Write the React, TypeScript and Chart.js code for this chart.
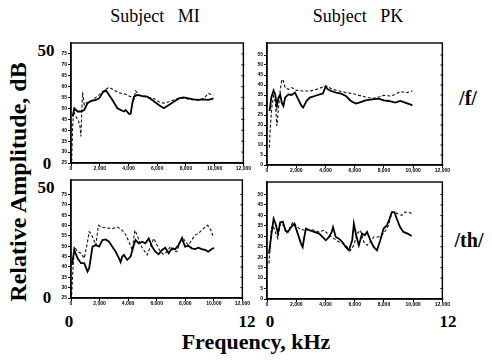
import React, { useEffect, useRef } from "react";
import { Chart, registerables } from "chart.js";

Chart.register(...registerables);

// x ticks (Hz) shared by every panel
const xTicks = [0, 2000, 4000, 6000, 8000, 10000, 12000];

// Subject MI, /f/
const miFSolidFreq = [115, 231, 462, 692, 923, 1154, 1385, 1731, 1962, 2193, 2423, 2654, 2885, 3231, 3462, 3692, 3808, 4039, 4154, 4270, 4385, 4616, 4962, 5308, 5654, 6116, 6462, 6808, 7154, 7500, 7846, 8193, 8539, 8885, 9231, 9577, 9923];
const miFSolidDb = [46.3, 50.1, 48.6, 48.6, 49.3, 52.4, 53.4, 53.9, 54.6, 57.2, 58.4, 56.2, 53.9, 50.1, 49.3, 48.6, 49.3, 47.5, 47.5, 52.4, 55.4, 56.2, 55.7, 55.4, 53.9, 51.6, 50.1, 51.6, 53.1, 54.6, 55.1, 54.6, 54.2, 53.9, 54.2, 53.9, 54.6];
const miFDashFreq = [46, 115, 185, 346, 531, 623, 692, 762, 808, 923, 1039, 1269, 1500, 1731, 1962, 2193, 2423, 2654, 3000, 3346, 3808, 4154, 4385, 4500, 4731, 5077, 5423, 5769, 6116, 6462, 6808, 7154, 7500, 7846, 8193, 8539, 8885, 9231, 9577, 9808, 9923];
const miFDashDb = [25.8, 41.7, 48.6, 46.3, 44.0, 41.7, 37.2, 50.8, 57.4, 51.6, 52.4, 53.1, 53.9, 55.1, 56.2, 57.7, 58.7, 59.7, 58.4, 57.2, 56.5, 55.4, 54.2, 58.1, 56.2, 55.7, 55.1, 54.6, 53.1, 52.4, 53.1, 53.9, 54.6, 54.9, 54.2, 53.9, 53.9, 54.6, 56.9, 56.2, 56.2];

// Subject PK, /f/
const pkFSolidFreq = [180, 293, 450, 563, 675, 788, 900, 1013, 1125, 1238, 1463, 1688, 1913, 2138, 2363, 2476, 2701, 2926, 3264, 3602, 3827, 4007, 4164, 4389, 4727, 5065, 5402, 5740, 6078, 6303, 6753, 7203, 7653, 7991, 8329, 8779, 9116, 9454, 9792, 9949];
const pkFSolidDb = [27.0, 33.7, 37.3, 35.3, 29.5, 33.7, 35.3, 31.2, 29.5, 33.7, 35.3, 35.0, 36.2, 32.8, 29.5, 28.7, 32.0, 33.7, 34.5, 35.3, 35.7, 39.2, 37.8, 37.0, 36.2, 35.7, 34.5, 32.0, 30.7, 31.2, 32.3, 32.8, 33.2, 32.3, 32.0, 31.2, 32.0, 31.2, 30.3, 29.8];
const pkFDashFreq = [158, 225, 338, 450, 563, 675, 788, 900, 1013, 1125, 1238, 1463, 1688, 2026, 2476, 2926, 3377, 3827, 4052, 4502, 4952, 5402, 5852, 6303, 6753, 7203, 7653, 7991, 8441, 8779, 9116, 9566, 9949];
const pkFDashDb = [8.7, 18.7, 29.5, 34.5, 32.0, 19.5, 28.7, 37.0, 42.8, 42.0, 38.7, 37.8, 38.7, 37.3, 37.0, 37.0, 37.8, 39.0, 39.5, 37.8, 37.0, 36.2, 35.7, 34.8, 34.0, 33.3, 34.0, 34.8, 34.5, 35.3, 36.7, 36.2, 37.0];

// Subject MI, /th/
const miThSolidFreq = [70, 232, 463, 695, 927, 1158, 1274, 1506, 1738, 1969, 2201, 2433, 2664, 2896, 3128, 3360, 3476, 3591, 3707, 3939, 4171, 4403, 4518, 4750, 4982, 5213, 5445, 5677, 5909, 6140, 6372, 6604, 6836, 7067, 7299, 7531, 7763, 7994, 8226, 8458, 8690, 8921, 9153, 9385, 9617, 9848, 10010];
const miThSolidDb = [41.0, 48.2, 44.2, 41.8, 41.8, 37.8, 39.4, 49.8, 50.6, 49.8, 53.0, 53.3, 52.2, 49.8, 47.4, 44.2, 42.3, 45.0, 45.8, 43.4, 45.0, 50.6, 53.0, 51.4, 52.2, 51.4, 53.8, 49.8, 47.4, 46.1, 48.2, 49.3, 46.6, 49.0, 48.6, 50.6, 53.8, 49.8, 50.2, 49.0, 48.6, 49.3, 48.6, 48.2, 47.4, 48.6, 49.3];
const miThDashFreq = [46, 116, 232, 463, 695, 927, 1158, 1274, 1390, 1506, 1738, 1923, 2085, 2433, 2896, 3244, 3591, 3823, 4054, 4286, 4472, 4634, 4866, 5097, 5329, 5561, 5793, 6024, 6256, 6488, 6720, 6952, 7183, 7415, 7647, 7809, 7994, 8226, 8458, 8690, 8921, 9269, 9570, 9801, 9917, 10010];
const miThDashDb = [26.6, 36.2, 49.8, 47.4, 46.6, 44.2, 52.2, 57.0, 56.2, 54.6, 50.6, 60.1, 59.3, 58.9, 58.5, 59.3, 57.7, 55.7, 52.2, 48.2, 57.7, 55.4, 50.6, 48.2, 45.8, 49.8, 53.8, 50.6, 47.4, 46.1, 47.4, 49.8, 47.7, 47.4, 52.2, 54.6, 52.2, 50.6, 53.0, 55.4, 56.2, 58.5, 60.1, 57.7, 55.4, 55.7];

// Subject PK, /th/
const pkThSolidFreq = [136, 294, 452, 588, 746, 904, 1085, 1266, 1424, 1650, 1876, 2102, 2328, 2441, 2554, 2667, 2893, 3232, 3571, 3797, 4023, 4249, 4430, 4520, 4701, 4927, 5153, 5379, 5605, 5831, 5944, 6102, 6283, 6509, 6690, 6848, 7074, 7300, 7526, 7752, 7978, 8204, 8385, 8543, 8724, 8882, 9108, 9334, 9628, 9899];
const pkThSolidDb = [21.7, 30.5, 38.4, 36.0, 31.3, 36.7, 37.0, 32.9, 32.1, 34.4, 36.0, 31.3, 26.5, 24.9, 29.7, 33.7, 32.9, 32.1, 31.3, 29.7, 28.1, 29.7, 32.1, 34.4, 29.7, 28.9, 27.3, 24.9, 23.3, 28.1, 36.0, 30.5, 25.7, 31.3, 30.5, 32.1, 28.1, 24.9, 23.3, 28.1, 33.7, 35.2, 38.4, 41.6, 41.6, 38.4, 34.4, 32.1, 31.3, 30.2];
const pkThDashFreq = [136, 294, 407, 520, 746, 904, 1130, 1311, 1537, 1763, 1989, 2215, 2554, 2893, 3232, 3571, 3910, 4249, 4588, 4927, 5266, 5492, 5718, 5944, 6170, 6396, 6622, 6848, 7074, 7300, 7639, 7978, 8317, 8543, 8724, 8950, 9221, 9447, 9786, 9967];
const pkThDashDb = [17.0, 33.7, 35.2, 32.9, 28.9, 36.0, 35.2, 31.3, 33.7, 36.8, 35.2, 33.7, 32.9, 33.3, 32.9, 32.1, 32.9, 30.5, 28.9, 27.3, 26.5, 24.9, 23.3, 25.7, 31.3, 32.9, 27.3, 25.7, 27.3, 29.7, 29.7, 31.3, 35.2, 41.3, 41.6, 40.8, 40.0, 41.6, 41.3, 40.8];

const zip = (xs: number[], ys: number[]) => xs.map((x, i) => ({ x, y: ys[i] }));

type PanelDef = {
  left: number; top: number; w: number; h: number;
  yMin: number; yMax: number; yLabelMax: number;
  solid: { x: number; y: number }[]; dash: { x: number; y: number }[];
};

const panels: PanelDef[] = [
  { left: 71, top: 43, w: 174, h: 120, yMin: 25, yMax: 80, yLabelMax: 75, solid: zip(miFSolidFreq, miFSolidDb), dash: zip(miFDashFreq, miFDashDb) },
  { left: 267, top: 43, w: 177, h: 122, yMin: 0, yMax: 61, yLabelMax: 55, solid: zip(pkFSolidFreq, pkFSolidDb), dash: zip(pkFDashFreq, pkFDashDb) },
  { left: 71, top: 180, w: 173, h: 118, yMin: 25, yMax: 82, yLabelMax: 75, solid: zip(miThSolidFreq, miThSolidDb), dash: zip(miThDashFreq, miThDashDb) },
  { left: 267, top: 182, w: 177, h: 117, yMin: 0, yMax: 56, yLabelMax: 50, solid: zip(pkThSolidFreq, pkThSolidDb), dash: zip(pkThDashFreq, pkThDashDb) },
];

const PAD_L = 16, PAD_T = 4, PAD_R = 6, PAD_B = 12;

const framePlugin = {
  id: "frame",
  afterDraw(chart: any) {
    const { ctx, chartArea: a } = chart;
    ctx.save();
    ctx.strokeStyle = "#000";
    ctx.lineWidth = 1.4;
    ctx.strokeRect(a.left, a.top, a.right - a.left, a.bottom - a.top);
    // small tick marks on the right border, matching the left ticks
    const ys = chart.scales.y;
    ctx.lineWidth = 1;
    ys.ticks.forEach((t: any) => {
      const py = ys.getPixelForValue(t.value);
      ctx.beginPath();
      ctx.moveTo(a.right - 2, py);
      ctx.lineTo(a.right + 1, py);
      ctx.stroke();
    });
    ctx.restore();
  },
};

function Panel({ p }: { p: PanelDef }) {
  const ref = useRef<HTMLCanvasElement>(null);
  const W = p.w + PAD_L + PAD_R;
  const H = p.h + PAD_T + PAD_B;
  useEffect(() => {
    if (!ref.current) return;
    const tickFont = { size: 5, family: "Liberation Sans", weight: "bold" as const };
    const chart = new Chart(ref.current, {
      type: "line",
      data: {
        datasets: [
          { data: p.solid, borderColor: "#000", borderWidth: 1.8, pointRadius: 0, fill: false },
          { data: p.dash, borderColor: "#111", borderWidth: 1.1, borderDash: [3, 2], pointRadius: 0, fill: false },
        ],
      },
      options: {
        animation: false,
        responsive: false,
        devicePixelRatio: 1,
        layout: { padding: { left: 0, top: PAD_T, right: PAD_R, bottom: 0 } },
        plugins: { legend: { display: false }, tooltip: { enabled: false } },
        scales: {
          x: {
            type: "linear",
            min: 0,
            max: 12000,
            afterBuildTicks: (s: any) => { s.ticks = xTicks.map((v) => ({ value: v })); },
            afterFit: (s: any) => { s.height = PAD_B; },
            ticks: { font: tickFont, color: "#000", padding: 0, maxRotation: 0, autoSkip: false },
            grid: { drawOnChartArea: false, tickLength: 3, color: "#000" },
            border: { display: true, color: "#000", width: 1.4 },
          },
          y: {
            type: "linear",
            min: p.yMin,
            max: p.yMax,
            afterBuildTicks: (s: any) => {
              const t: { value: number }[] = [];
              for (let v = p.yMin; v <= p.yLabelMax; v += 5) t.push({ value: v });
              s.ticks = t;
            },
            afterFit: (s: any) => { s.width = PAD_L; },
            ticks: { font: tickFont, color: "#000", padding: 1, autoSkip: false },
            grid: { drawOnChartArea: false, tickLength: 3, color: "#000" },
            border: { display: true, color: "#000", width: 1.4 },
          },
        },
      },
      plugins: [framePlugin],
    } as any);
    return () => chart.destroy();
  }, []);
  return (
    <canvas
      ref={ref}
      width={W}
      height={H}
      style={{ position: "absolute", left: p.left - PAD_L, top: p.top - PAD_T, width: W, height: H }}
    />
  );
}

const serif = "'Liberation Serif', 'DejaVu Serif', 'Noto Serif', 'Times New Roman', Times, serif";

function Txt({ x, y, size, bold, children, anchor = "middle" }: any) {
  const tx = anchor === "middle" ? "-50%" : anchor === "end" ? "-100%" : "0";
  return (
    <div
      style={{
        position: "absolute", left: x, top: y, transform: `translate(${tx}, -50%)`,
        fontFamily: serif, fontSize: size, fontWeight: bold ? "bold" : "normal",
        whiteSpace: "pre", lineHeight: 1, color: "#000",
      }}
    >
      {children}
    </div>
  );
}

export default function App() {
  return (
    <div style={{ position: "fixed", left: 0, top: 0, width: 492, height: 360, background: "#fff", overflow: "hidden", fontFamily: serif }}>
      {panels.map((p, i) => <Panel key={i} p={p} />)}
      <Txt x={155} y={16} size={18}>{"Subject   MI"}</Txt>
      <Txt x={358} y={16} size={18}>{"Subject   PK"}</Txt>
      <Txt x={468} y={98} size={20} bold>/f/</Txt>
      <Txt x={469} y={240} size={20} bold>/th/</Txt>
      <Txt x={46} y={50} size={17} bold>50</Txt>
      <Txt x={47} y={163} size={17} bold>0</Txt>
      <Txt x={46} y={187} size={17} bold>50</Txt>
      <Txt x={47} y={297} size={17} bold>0</Txt>
      <Txt x={69} y={321} size={17} bold>0</Txt>
      <Txt x={247} y={321} size={17} bold>12</Txt>
      <Txt x={270} y={321} size={17} bold>0</Txt>
      <Txt x={448} y={321} size={17} bold>12</Txt>
      <Txt x={256} y={342} size={22} bold>Frequency, kHz</Txt>
      <div
        style={{
          position: "absolute", left: 18, top: 182, transform: "translate(-50%, -50%) rotate(-90deg)",
          fontFamily: serif, fontSize: 24, fontWeight: "bold", whiteSpace: "pre", lineHeight: 1, color: "#000",
        }}
      >
        Relative Amplitude, dB
      </div>
    </div>
  );
}
